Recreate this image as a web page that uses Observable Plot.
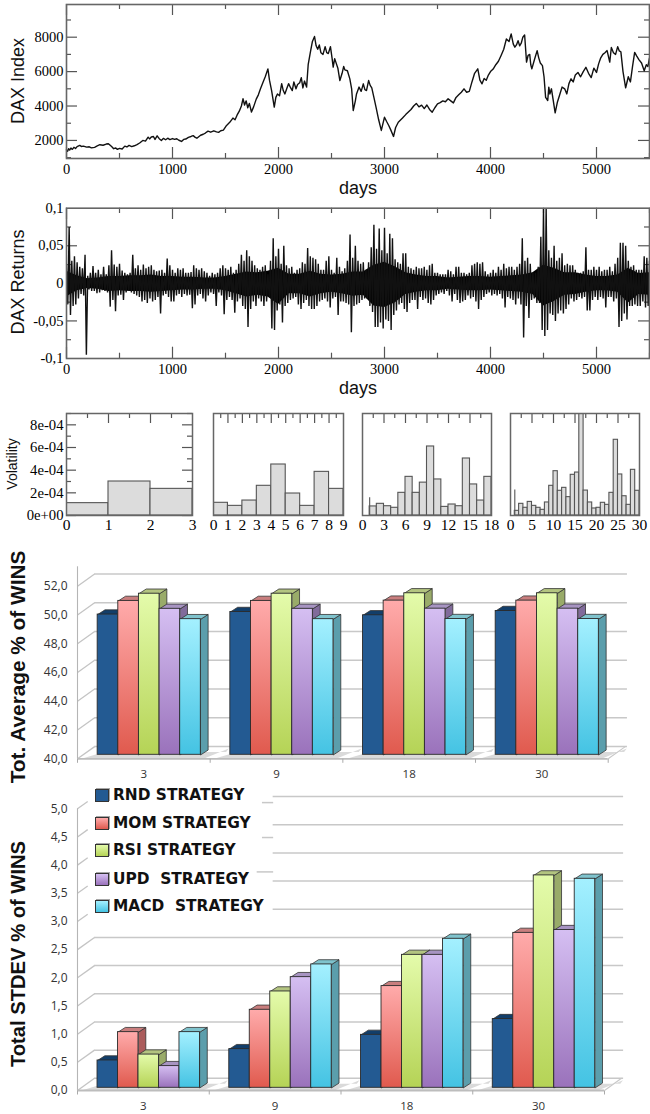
<!DOCTYPE html>
<html><head><meta charset="utf-8">
<script src="https://cdn.jsdelivr.net/npm/d3@7"></script>
<script src="https://cdn.jsdelivr.net/npm/@observablehq/plot@0.6"></script>
<style>
html,body{margin:0;padding:0;background:#fff}
#page{position:relative;width:650px;height:1114px;overflow:hidden;background:#fff}
#page svg{position:absolute;left:0;background:transparent;overflow:visible}
.t{position:absolute;white-space:pre;color:#111;transform:translate(-50%,-50%)}
.lg{position:absolute;white-space:pre;font:bold 15.4px "DejaVu Sans";color:#111;transform:translateY(-50%)}
.sw{position:absolute;width:12px;height:11px;border:1px solid #333;box-shadow:1px -1px 0 rgba(0,0,0,.35)}
</style></head><body><div id="page"></div>
<script>
// ---------- DAX index ----------
const indexDays = [0,10,20,30,42,55,70,85,100,125,
140,160,190,215,235,265,290,315,345,375,
395,415,430,445,465,480,500,525,550,570,
590,615,640,665,690,720,745,770,785,800,
820,835,855,875,895,915,935,955,975,1000,
1020,1040,1060,1085,1105,1125,1150,1175,1195,1215,
1230,1265,1290,1310,1335,1360,1390,1415,1435,1455,
1480,1510,
1540,1570,1590,1610,1630,1650,1665,1680,1695,1710,
1725,1745,1765,1790,1810,1830,1855,1875,1900,1915,
1935,1960,1975,1990,2010,2030,2045,2060,2080,2095,
2115,2130,2145,2165,2180,2200,2215,2230,2245,2265,
2280,2300,2320,2340,2355,2370,2385,2400,2420,2440,
2455,2470,2490,2505,2516,2530,2541,2560,2579,2600,
2615,2626,2650,2673,2690,2705,2725,2736,2760,2780,
2800,2815,2830,2850,2865,2880,2900,2920,2945,2970,
3000,3020,3040,3060,3085,3105,3130,3170,3200,3225,
3250,3275,3300,3325,3350,3375,3400,3425,3450,3475,
3500,3525,3550,3575,3600,3625,3650,3675,3700,3725,
3750,3775,3800,3825,3850,3880,3900,3920,3940,3960,
3980,4000,4025,4050,4075,4100,4125,4150,4175,4195,
4215,4230,4245,4260,4275,4290,4305,4322,4340,4355,
4370,4380,4390,4415,4440,4455,4470,4490,4505,4520,
4540,4550,4560,4575,4590,4610,4630,4650,4675,4700,
4720,4740,4760,4780,4800,4825,4850,4875,4900,4925,
4950,4975,5000,5020,5040,5060,5080,5100,5125,5140,
5160,5180,5200,5215,5230,5250,5275,5300,5320,5340,
5360,5380,5400,5425,5450,5470,5485,5500];
const indexValues = [1450,1370,1520,1440,1560,1480,1600,1530,1640,1710,
1650,1670,1610,1630,1570,1600,1680,1750,1720,1790,
1810,1700,1620,1520,1560,1480,1540,1500,1670,1620,
1710,1640,1690,1760,1850,2000,1960,2190,2090,2200,
2230,2060,2270,2100,2000,2120,2040,2130,2050,2110,
2060,2100,2010,1940,2060,2080,2180,2230,2280,2180,
2130,2300,2360,2430,2540,2480,2560,2500,2470,2560,
2600,2870,
3050,3300,3200,3480,3700,4000,4420,4060,4300,3900,
4150,3650,3950,4400,4650,5000,5400,5700,6160,5500,
4900,3935,4500,4700,4600,5300,4900,4700,5050,5300,
5050,4900,5400,5000,5250,5350,5650,5050,5450,5100,
6400,7100,7750,8040,7500,7300,7550,7100,7000,7450,
7100,7050,7450,6800,6260,6750,6550,6200,5480,5900,
6300,6100,6050,5580,5000,3740,4300,4700,5100,4850,
5290,4950,4900,5480,5200,5060,4500,3935,3200,2580,
3350,3100,2870,2600,2230,2750,3060,3300,3500,3650,
3800,4000,4150,3950,4050,3850,4060,3800,3640,3900,
4130,4200,4300,4250,4420,4300,4180,4500,4650,4800,
5000,4800,4850,5400,5900,6160,5500,5290,5600,5500,
5800,6000,6150,6400,6600,6940,7300,7900,7750,8190,
7600,7420,7550,7800,7500,7650,8000,8130,6550,6950,
7000,6400,6160,6700,7220,6800,6500,6350,5700,4500,
4320,5100,4700,5000,4400,3600,4200,4600,5100,5000,
4700,5300,5580,5400,5800,5950,5700,6000,6250,5900,
5650,6200,5950,6450,6800,7000,7100,7220,6550,7400,
7100,7000,7450,7200,7150,6000,5060,5700,5400,6300,
7120,6900,6700,6500,6050,6400,6300,6800];

// ---------- DAX returns, thousandths, upper and lower swing read every 25 days ----------
const swingHi = [24,75,30,36,28,22,20,38,10,14,23,14,18,12,22,12,24,44,25,22,26,17,14,12,14,38,20,24,18,25,20,22,24,18,16,17,18,14,33,24,18,14,20,18,20,14,14,15,24,20,18,20,16,14,10,14,12,14,20,24,20,18,22,14,18,26,38,30,44,36,30,24,20,
18,22,24,12,30,60,36,46,26,50,24,20,22,14,18,20,28,26,47,36,34,32,26,18,18,30,36,18,14,34,22,16,20,30,65,34,50,30,26,28,18,28,48,78,46,73,44,74,40,66,60,32,28,26,40,40,22,20,18,22,20,20,22,18,24,26,14,14,12,12,12,18,16,
12,22,22,14,14,12,14,24,26,28,26,28,16,12,14,18,14,22,18,26,20,22,22,18,22,26,60,30,34,26,14,14,22,62,100,100,44,34,50,30,34,40,24,26,24,24,18,14,14,16,48,18,18,22,18,22,16,18,18,22,16,26,34,54,54,50,30,22,24,18,18,18,36,34,30];
const swingLo = [-28,-42,-30,-28,-20,-14,-16,-95,-8,-10,-10,-13,-12,-9,-10,-12,-31,-22,-37,-16,-15,-22,-12,-10,-12,-14,-16,-18,-24,-22,-26,-20,-24,-22,-18,-40,-16,-14,-18,-24,-24,-16,-14,-18,-14,-16,-15,-33,-28,-16,-14,-20,-24,-16,-12,-14,-30,-12,-16,-41,-22,-18,-22,-39,-24,-20,-30,-34,-58,-34,-24,-30,-20,
-24,-30,-24,-18,-60,-62,-36,-28,-52,-30,-26,-22,-20,-18,-28,-34,-26,-22,-30,-34,-34,-30,-24,-22,-20,-24,-32,-20,-18,-42,-24,-24,-26,-28,-65,-30,-28,-26,-22,-20,-20,-30,-38,-58,-58,-52,-60,-48,-50,-62,-42,-36,-28,-26,-34,-38,-26,-22,-22,-34,-18,-22,-20,-26,-28,-22,-16,-14,-12,-14,-10,-16,-24,
-14,-22,-26,-24,-22,-16,-20,-18,-24,-34,-22,-18,-14,-12,-16,-14,-16,-14,-20,-32,-18,-20,-22,-28,-20,-28,-72,-30,-46,-22,-20,-26,-26,-62,-70,-62,-40,-42,-50,-40,-36,-40,-34,-28,-20,-24,-22,-18,-20,-18,-36,-36,-22,-18,-22,-18,-20,-32,-18,-18,-24,-20,-58,-50,-40,-48,-30,-30,-28,-30,-30,-24,-32,-30,-26];
// solid black core of the returns band, read every 100 days
const coreHi = [16,10,6,7,9,9,10,10,11,9,9,8,8,7,7,9,12,15,14,16,20,12,12,16,12,11,12,15,15,24,28,22,14,11,9,9,7,8,9,9,8,9,10,11,14,24,20,14,14,11,9,9,11,20,13,14];
const coreLo = [-18,-10,-7,-8,-11,-10,-11,-11,-12,-11,-10,-9,-9,-8,-8,-10,-14,-18,-16,-18,-28,-14,-14,-18,-14,-12,-14,-17,-16,-30,-32,-26,-15,-12,-10,-10,-8,-9,-10,-10,-9,-10,-11,-12,-15,-30,-24,-16,-15,-12,-10,-10,-12,-26,-15,-16];

// ---------- Volatility panels, in units of 1e-4 ----------
const vol3  = [1.09,3.0,2.35];
const vol9  = [1.12,0.85,1.32,2.62,4.5,1.94,0.85,3.85,2.35];
const vol18 = [0,0.8,1.03,0.82,0.68,2.0,3.41,2.0,2.9,6.09,3.18,0.76,0.97,0.82,5.03,2.74,1.32,3.41];
const vol30 = [0,0.41,1.03,0.68,1.2,0.85,0.68,0.5,1.15,2.62,3.91,2.18,2.44,1.62,3.59,3.79,12,2.2,1.15,0.62,0.68,1.12,0.94,2.0,6.68,3.62,1.7,0.94,4.03,2.18];
const volLabels = ["0e+00","2e-04","4e-04","6e-04","8e-04"];

// ---------- 3D bar charts ----------
const windows = ["3","9","18","30"];
const strategies = ["RND STRATEGY","MOM STRATEGY","RSI STRATEGY","UPD  STRATEGY","MACD  STRATEGY"];
const avgRnd  = [49.75,49.93,49.70,50.00];
const avgMom  = [50.70,50.70,50.72,50.72];
const avgRsi  = [51.20,51.20,51.23,51.23];
const avgUpd  = [50.15,50.15,50.16,50.16];
const avgMacd = [49.43,49.43,49.44,49.44];
const sdRnd  = [0.485,0.686,0.94,1.22];
const sdMom  = [0.988,1.385,1.805,2.75];
const sdRsi  = [0.59,1.71,2.36,3.77];
const sdUpd  = [0.385,1.964,2.36,2.80];
const sdMacd = [0.988,2.19,2.645,3.71];
const frontTop = ["#235a92","#ffabab","#e4fbab","#d5bff2","#a4f0ff"];
const frontBottom = ["#235a92","#e05a4e","#b5d356","#9a72bb","#44c3e3"];
const sideColors = ["#0f3c66","#ab5c5c","#99ab69","#816b9b","#5b9eac"];
const topColors = ["#123e6a","#c97e7e","#b3c480","#a794c2","#7fc3cd"];

const page = document.getElementById("page");
const SERIF = '"Liberation Serif"', SANS = '"Liberation Sans"';
const FRAME = "#666", TICK = "#555";

function put(svg, top){ svg.style.top = top + "px"; page.appendChild(svg); }
function text(s, cx, cy, font, rot){
  const e = document.createElement("div"); e.className = "t"; e.textContent = s;
  e.style.left = cx + "px"; e.style.top = cy + "px"; e.style.font = font;
  if (rot) e.style.transform = "translate(-50%,-50%) rotate(-90deg)";
  page.appendChild(e);
}
function ticksX(vals, len, innerH, sides){
  const m = [];
  if (sides.includes("t")) m.push(Plot.ruleX(vals,{insetBottom:innerH-len,stroke:TICK,strokeWidth:1.2}));
  if (sides.includes("b")) m.push(Plot.ruleX(vals,{insetTop:innerH-len,stroke:TICK,strokeWidth:1.2}));
  return m;
}
function ticksY(vals, len, innerW, sides){
  const m = [];
  if (sides.includes("l")) m.push(Plot.ruleY(vals,{insetRight:innerW-len,stroke:TICK,strokeWidth:1.2}));
  if (sides.includes("r")) m.push(Plot.ruleY(vals,{insetLeft:innerW-len,stroke:TICK,strokeWidth:1.2}));
  return m;
}

const dayMajor = [0,1000,2000,3000,4000,5000], dayMinor = [500,1500,2500,3500,4500,5500];
const yAxisOpts = {tickSize:0,tickPadding:3,fontSize:14.5,fontFamily:SERIF,label:null};
const xAxisOpts = {tickSize:0,tickPadding:5,fontSize:14.5,fontFamily:SERIF,label:null,ticks:dayMajor,tickFormat:d=>String(d)};

// DAX index
const idx = indexDays.map((d,i)=>({d,v:indexValues[i]}));
put(Plot.plot({width:650,height:200,marginLeft:66,marginRight:1,marginTop:4,marginBottom:42,
  x:{domain:[0,5500],axis:null},y:{domain:[950,9900],axis:null},
  marks:[
    ...ticksX(dayMajor,11,154,"tb"),...ticksX(dayMinor,5,154,"tb"),
    ...ticksY([2000,4000,6000,8000],11,583,"lr"),...ticksY([1000,3000,5000,7000,9000],5,583,"lr"),
    Plot.line(idx,{x:"d",y:"v",stroke:"#111",strokeWidth:1.4}),
    Plot.frame({stroke:FRAME,strokeWidth:1.6}),
    Plot.axisX(xAxisOpts),
    Plot.axisY({...yAxisOpts,ticks:[2000,4000,6000,8000],tickFormat:d=>String(d)})
  ]}),0);

// DAX returns: the line swings between the upper and lower reading of each column
const swings = swingHi.flatMap((h,i)=>[{d:i*25,r:h/1000},{d:i*25+12.5,r:swingLo[i]/1000}]);
const core = coreHi.map((h,i)=>({d:i*100,hi:h/1000,lo:coreLo[i]/1000}));
const retFmt = d => d===0 ? "0" : String(d).replace(".",",");
put(Plot.plot({width:650,height:200,marginLeft:66,marginRight:1,marginTop:7.7,marginBottom:42,
  x:{domain:[0,5500],axis:null},y:{domain:[-0.1,0.1],axis:null},
  marks:[
    ...ticksX(dayMajor,11,150,"tb"),...ticksX(dayMinor,5,150,"tb"),
    ...ticksY([-0.05,0,0.05],11,583,"lr"),...ticksY([-0.075,-0.025,0.025,0.075],5,583,"lr"),
    Plot.areaY(core,{x:"d",y1:"lo",y2:"hi",fill:"#000"}),
    Plot.line(swings,{x:"d",y:"r",stroke:"#111",strokeWidth:1.4,strokeLinejoin:"bevel",clip:true}),
    Plot.frame({stroke:FRAME,strokeWidth:1.6}),
    Plot.axisX(xAxisOpts),
    Plot.axisY({...yAxisOpts,ticks:[-0.1,-0.05,0,0.05,0.1],tickFormat:retFmt})
  ]}),200);

// Volatility panels
function panel(vals,left,right,major,minor,labels,o={}){
  const innerW = right-left, innerH = 102;
  const bars = vals.map((v,i)=>({x1:i,x2:i+1,v:v*1e-4}));
  put(Plot.plot({width:650,height:140,marginLeft:left,marginRight:650-right,marginTop:13,marginBottom:25,
    x:{domain:[0,vals.length],axis:null},y:{domain:[0,9e-4],axis:null},
    marks:[
      ...ticksX(major,10,innerH,"t"),...ticksX(minor,5,innerH,"t"),
      ...(o.yTicks?[...ticksY([0,2e-4,4e-4,6e-4,8e-4],10,innerW,"lr"),...ticksY([1e-4,3e-4,5e-4,7e-4,9e-4],5,innerW,"lr")]:[]),
      Plot.rect(bars,{x1:"x1",x2:"x2",y1:0,y2:"v",fill:"#dcdcdc",stroke:"#555",strokeWidth:1.1,clip:true}),
      ...(o.spike?[Plot.ruleX([1],{y1:0,y2:o.spike*1e-4,stroke:"#555",strokeWidth:1.1})]:[]),
      Plot.frame({stroke:FRAME,strokeWidth:1.5}),
      Plot.axisX({ticks:labels,tickSize:0,tickPadding:3,fontSize:15.5,fontFamily:SERIF,label:null,tickFormat:d=>String(d)}),
      ...(o.yTicks?[Plot.axisY({ticks:[0,2e-4,4e-4,6e-4,8e-4],tickSize:0,tickPadding:3,fontSize:14.7,fontFamily:SERIF,label:null,tickFormat:(d,i)=>volLabels[i]})]:[])
    ]}),400);
}
panel(vol3,66,192,[1,2],[0.5,1.5,2.5],[0,1,2,3],{yTicks:true});
panel(vol9,213,343,[1,2,3,4,5,6,7,8],[0.5,1.5,2.5,3.5,4.5,5.5,6.5,7.5,8.5],[0,1,2,3,4,5,6,7,8,9]);
panel(vol18,362,491,[3,6,9,12,15],[1.5,4.5,7.5,10.5,13.5,16.5],[0,3,6,9,12,15,18],{spike:1.56});
panel(vol30,510,639,[5,10,15,20,25],[2.5,7.5,12.5,17.5,22.5,27.5],[0,5,10,15,20,25,30],{spike:2.26});

// 3D bars
function gradientDefs(){
  return () => {
    const defs = d3.create("svg:defs");
    frontTop.forEach((c,i)=>{
      const g = defs.append("linearGradient").attr("id","grad"+i).attr("x1",0).attr("x2",0).attr("y1",0).attr("y2",1);
      g.append("stop").attr("offset",0).attr("stop-color",c);
      g.append("stop").attr("offset",1).attr("stop-color",frontBottom[i]);
    });
    return defs.node();
  };
}
const barOff = 0.152, barW = 0.1555;
function bars3D({series,base,yTop,gridVals,yRange,xRange,pxY,lift,top,height,fmt,partialFrom,partialX,stubs}){
  const dX = 7.3/(xRange[1]-xRange[0])*4, dY = 4.7/pxY, backY = 12.2/pxY, backX = 0.129;
  const marks = [gradientDefs()];
  const floor = [];
  windows.forEach((w,g)=>{
    [[g+0.03,base],[g+0.95,base],[g+1.14,base+backY*0.85],[g+1.12,base+backY*0.55],[g+0.2,base+backY*0.55]]
      .forEach(p=>floor.push({id:g,x:p[0],y:p[1]}));
  });
  marks.push(Plot.line(floor,{x:"x",y:"y",z:"id",fill:"#dadada",stroke:"none",curve:"linear-closed"}));
  const full = gridVals.filter(v=>partialFrom==null||v<partialFrom);
  const part = gridVals.filter(v=>partialFrom!=null&&v>=partialFrom);
  marks.push(Plot.link(full,{x1:0,x2:backX,y1:d=>d,y2:d=>d+backY,stroke:"#c4c4c4",strokeWidth:1.3}));
  marks.push(Plot.link(part,{x1:0,x2:backX*0.6,y1:d=>d,y2:d=>d+backY*0.6,stroke:"#c4c4c4",strokeWidth:1.3}));
  marks.push(Plot.ruleY(full.map(d=>d+backY),{x1:backX,x2:4.145,stroke:"#c8c8c8",strokeWidth:1.5}));
  if (part.length) marks.push(Plot.ruleY(part.map(d=>d+backY),{x1:partialX,x2:4.145,stroke:"#c8c8c8",strokeWidth:1.5}));
  if (stubs) marks.push(Plot.link(stubs,{x1:"x",x2:partialX,y1:"y",y2:"y",stroke:"#c8c8c8",strokeWidth:1.5}));
  marks.push(Plot.ruleX([0],{y1:base,y2:yTop,stroke:"#b5b5b5",strokeWidth:1.1}));
  marks.push(Plot.ruleY([base],{x1:0,x2:4,stroke:"#bdbdbd",strokeWidth:1.8}));
  marks.push(Plot.link([4],{x1:4,x2:4+backX,y1:base,y2:base+backY,stroke:"#c8c8c8",strokeWidth:1.1}));
  marks.push(Plot.link([0,1,2,3,4],{x1:d=>d,x2:d=>d,y1:base,y2:base-4/pxY,stroke:"#aaa",strokeWidth:1}));
  series.forEach((vals,s)=>{
    const fronts = [], sides = [], tops = [];
    vals.forEach((v,g)=>{
      const x1 = g+barOff+s*barW, x2 = x1+barW;
      fronts.push({x1,x2,v});
      [[x2,base],[x2+dX,base+dY],[x2+dX,v+dY],[x2,v]].forEach(p=>sides.push({id:g,x:p[0],y:p[1]}));
      [[x1,v],[x1+dX,v+dY],[x2+dX,v+dY],[x2,v]].forEach(p=>tops.push({id:g,x:p[0],y:p[1]}));
    });
    const st = {x:"x",y:"y",z:"id",stroke:"#333",strokeWidth:0.8,curve:"linear-closed",dy:-lift};
    marks.push(Plot.line(sides,{...st,fill:sideColors[s]}));
    marks.push(Plot.line(tops,{...st,fill:topColors[s]}));
    marks.push(Plot.rect(fronts,{x1:"x1",x2:"x2",y1:base,y2:"v",fill:`url(#grad${s})`,stroke:"#2b2b2b",strokeWidth:0.9,dy:-lift}));
  });
  marks.push(Plot.axisY({ticks:gridVals,tickSize:0,tickPadding:10,anchor:"left",fontSize:12,fontFamily:'"Open Sans"',label:null,fill:"#333",tickFormat:fmt}));
  marks.push(Plot.text(windows,{x:(d,i)=>i+0.5,y:base,dy:16,fontSize:11.5,fontFamily:'"Open Sans"',fill:"#333"}));
  put(Plot.plot({width:650,height,marginLeft:xRange[0],marginRight:650-xRange[1],marginTop:0,marginBottom:0,
    x:{domain:[0,4],range:xRange,axis:null},y:{domain:[base,gridVals[gridVals.length-1]],range:yRange,axis:null},marks}),top);
}
const comma1 = d => d.toFixed(1).replace(".",",");
bars3D({series:[avgRnd,avgMom,avgRsi,avgUpd,avgMacd],base:40,yTop:53.35,
  gridVals:[40,42,44,46,48,50,52],yRange:[213.3,40.7],xRange:[77,607.7],pxY:14.38,lift:4,top:545,height:240,fmt:comma1});
bars3D({series:[sdRnd,sdMom,sdRsi,sdUpd,sdMacd],base:0,yTop:5.0,
  gridVals:[0,0.5,1,1.5,2,2.5,3,3.5,4,4.5,5],yRange:[310,28.3],xRange:[77,604],pxY:56.33,lift:2.7,top:780,height:334,fmt:comma1,
  partialFrom:3,partialX:1.485,stubs:[{x:1.40,y:5.11},{x:1.40,y:4.49},{x:1.36,y:3.88}]});

// titles
text("DAX Index",18,81,`18px ${SANS}`,true);
text("days",358,188,`18px ${SANS}`);
text("DAX Returns",18,282,`18px ${SANS}`,true);
text("days",358,388,`18px ${SANS}`);
text("Volatility",12,464,`14px ${SANS}`,true);
text("Tot. Average % of WINS",18,667,`bold 20.8px ${SANS}`,true);
text("Total STDEV % of WINS",18,954,`bold 20.2px ${SANS}`,true);

// legend
const legendY = [795,823,850,879,906];
strategies.forEach((s,i)=>{
  const sw = document.createElement("div"); sw.className="sw";
  sw.style.left="95px"; sw.style.top=(legendY[i]-6)+"px";
  sw.style.background=`linear-gradient(${frontTop[i]},${frontBottom[i]})`;
  page.appendChild(sw);
  const l = document.createElement("div"); l.className="lg"; l.textContent=s;
  l.style.left="113px"; l.style.top=legendY[i]+"px";
  page.appendChild(l);
});
</script></body></html>
